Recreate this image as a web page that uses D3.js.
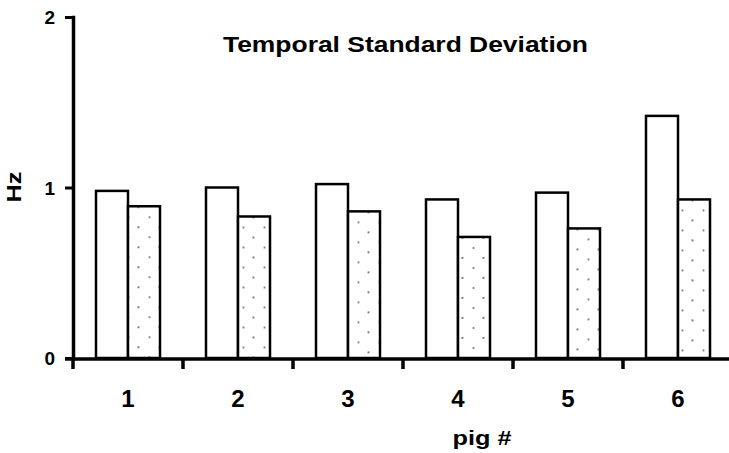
<!DOCTYPE html>
<html>
<head>
<meta charset="utf-8">
<script src="https://cdn.jsdelivr.net/npm/d3@7"></script>
<style>
  html, body { margin: 0; padding: 0; background: #fff; }
  svg { display: block; font-family: "Liberation Sans", Arial, sans-serif; font-weight: bold; }
</style>
</head>
<body>
<svg id="chart" width="729" height="453"></svg>
<script>
const categories = ["1", "2", "3", "4", "5", "6"];
const seriesNames = ["open", "dotted"];
const openValues = [0.98, 1.00, 1.02, 0.93, 0.97, 1.42];
const dottedValues = [0.89, 0.83, 0.86, 0.71, 0.76, 0.93];
const yTicks = [0, 1, 2];
const titleText = "Temporal Standard Deviation";
const yLabel = "Hz";
const xLabel = "pig #";

const svg = d3.select("#chart");

const x = d3.scaleBand().domain(categories).range([73, 733]).padding(0);
const inner = d3.scaleBand().domain(seriesNames)
  .range([x.bandwidth() / 2 - 32, x.bandwidth() / 2 + 32]).padding(0);
const y = d3.scaleLinear().domain([0, 2]).range([358, 17]);

const rows = categories.map((c, i) => ({ cat: c, open: openValues[i], dotted: dottedValues[i] }));

// patterns for dotted bars (aligned to each bar)
const defs = svg.append("defs");
rows.forEach((r, i) => {
  const bx = x(r.cat) + inner("dotted");
  const by = y(r.dotted);
  const p = defs.append("pattern")
    .attr("id", "dots" + i)
    .attr("patternUnits", "userSpaceOnUse")
    .attr("x", bx).attr("y", by)
    .attr("width", 21).attr("height", 20);
  p.append("rect").attr("width", 21).attr("height", 20).attr("fill", "#fff");
  p.append("circle").attr("cx", 11.5).attr("cy", 11).attr("r", 1.1).attr("fill", "#777");
  p.append("circle").attr("cx", 0.5).attr("cy", 1).attr("r", 1.1).attr("fill", "#777");
  p.append("circle").attr("cx", 21.5).attr("cy", 1).attr("r", 1.1).attr("fill", "#777");
});

// bars
const groups = svg.append("g").selectAll("g").data(rows).join("g")
  .attr("transform", d => `translate(${x(d.cat)},0)`);
groups.append("rect")
  .attr("x", inner("open")).attr("width", inner.bandwidth())
  .attr("y", d => y(d.open)).attr("height", d => y(0) - y(d.open))
  .attr("fill", "#fff").attr("stroke", "#000").attr("stroke-width", 2.5);
groups.append("rect")
  .attr("x", inner("dotted")).attr("width", inner.bandwidth())
  .attr("y", d => y(d.dotted)).attr("height", d => y(0) - y(d.dotted))
  .attr("fill", (d, i) => `url(#dots${i})`).attr("stroke", "#000").attr("stroke-width", 2.5);

// y axis
const yAxis = svg.append("g").attr("transform", "translate(73,0)")
  .call(d3.axisLeft(y).tickValues(yTicks).tickFormat(d3.format("d")).tickSize(8).tickSizeOuter(0).tickPadding(10));
yAxis.select(".domain").attr("stroke", "#000").attr("stroke-width", 3.5).attr("stroke-linecap", "square");
yAxis.selectAll(".tick line").attr("stroke", "#000").attr("stroke-width", 3);
yAxis.selectAll(".tick text").attr("font-size", 19).attr("font-weight", "bold")
  .attr("font-family", "Liberation Sans, Arial, sans-serif").attr("fill", "#000").attr("dy", "0.36em");

// x axis
const xAxis = svg.append("g").attr("transform", "translate(0,359)")
  .call(d3.axisBottom(x).tickSize(0).tickPadding(48));
xAxis.select(".domain").remove();
xAxis.append("line").attr("x1", 65).attr("x2", 729).attr("y1", 0).attr("y2", 0)
  .attr("stroke", "#000").attr("stroke-width", 3.5);
xAxis.selectAll(".bound").data(categories).join("line").attr("class", "bound")
  .attr("x1", d => x(d)).attr("x2", d => x(d)).attr("y1", 0).attr("y2", 10)
  .attr("stroke", "#000").attr("stroke-width", 3.5);
xAxis.selectAll(".tick text").attr("font-size", 24).attr("font-weight", "bold")
  .attr("font-family", "Liberation Sans, Arial, sans-serif").attr("fill", "#000").attr("dy", "0");

// title
svg.append("text").attr("x", 405.5).attr("y", 52).attr("text-anchor", "middle")
  .attr("font-size", 22).attr("textLength", 365).attr("lengthAdjust", "spacingAndGlyphs")
  .text(titleText);

// y label
svg.append("text").attr("transform", "translate(20.5,187) rotate(-90)").attr("text-anchor", "middle")
  .attr("font-size", 19.5).attr("textLength", 31).attr("lengthAdjust", "spacingAndGlyphs")
  .text(yLabel);

// x label
svg.append("text").attr("x", 482).attr("y", 445).attr("text-anchor", "middle")
  .attr("font-size", 21).attr("textLength", 59).attr("lengthAdjust", "spacingAndGlyphs")
  .text(xLabel);
</script>
</body>
</html>
